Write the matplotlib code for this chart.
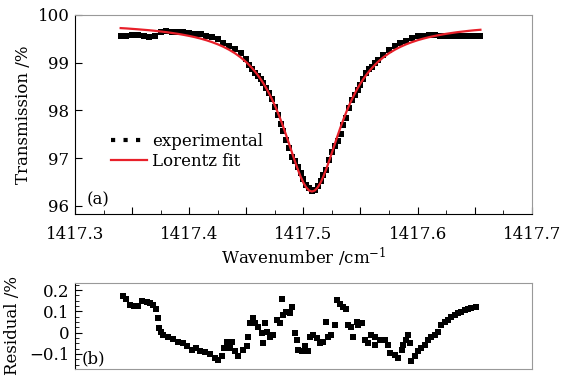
import numpy as np
import matplotlib
matplotlib.use("Agg")
import matplotlib.pyplot as plt
from matplotlib.ticker import MultipleLocator, FuncFormatter
from matplotlib.lines import Line2D

# wavenumber grid (cm^-1)
wavenumber = [
    1417.340, 1417.345, 1417.350, 1417.355, 1417.360, 1417.365, 1417.370, 1417.375,
    1417.380, 1417.385, 1417.390, 1417.395, 1417.400, 1417.405, 1417.410, 1417.415,
    1417.420, 1417.425, 1417.430, 1417.435, 1417.440, 1417.445, 1417.450,
    1417.4525, 1417.455, 1417.4575, 1417.460, 1417.4625, 1417.465, 1417.4675, 1417.470,
    1417.4725, 1417.475, 1417.4775, 1417.480, 1417.4825, 1417.485, 1417.4875, 1417.490,
    1417.4925, 1417.495, 1417.4975, 1417.500, 1417.5025, 1417.505, 1417.5075, 1417.510,
    1417.5125, 1417.515, 1417.5175, 1417.520, 1417.5225, 1417.525, 1417.5275, 1417.530,
    1417.5325, 1417.535, 1417.5375, 1417.540, 1417.5425, 1417.545, 1417.5475, 1417.550,
    1417.5525, 1417.555, 1417.5575, 1417.560, 1417.5625, 1417.565,
    1417.570, 1417.575, 1417.580, 1417.585, 1417.590, 1417.595, 1417.600, 1417.605,
    1417.610, 1417.615, 1417.620, 1417.625, 1417.630, 1417.635, 1417.640, 1417.645,
    1417.650, 1417.655,
]

# measured transmission (%)
experimental = [
    99.555, 99.558, 99.575, 99.575, 99.550, 99.545, 99.565, 99.640,
    99.655, 99.652, 99.646, 99.634, 99.628, 99.610, 99.593, 99.566,
    99.541, 99.500, 99.420, 99.340, 99.280, 99.200, 99.076,
    98.960, 98.860, 98.780, 98.712, 98.650, 98.580, 98.460, 98.369,
    98.244, 98.073, 97.906, 97.720, 97.564, 97.376, 97.207, 97.030,
    96.930, 96.810, 96.690, 96.555, 96.440, 96.370, 96.315, 96.342,
    96.420, 96.530, 96.650, 96.750, 96.955, 97.122, 97.261, 97.360,
    97.510, 97.688, 97.848, 98.060, 98.213, 98.314, 98.425, 98.540,
    98.658, 98.780, 98.858, 98.920, 98.992, 99.060,
    99.160, 99.260, 99.350, 99.410, 99.460, 99.520, 99.555, 99.565,
    99.572, 99.575, 99.565, 99.558, 99.552, 99.552, 99.554, 99.558,
    99.560, 99.565,
]

# Lorentz fit (%)
lorentz = [
    99.725, 99.718, 99.709, 99.700, 99.690, 99.680, 99.668, 99.654,
    99.640, 99.623, 99.605, 99.584, 99.561, 99.535, 99.505, 99.471,
    99.431, 99.386, 99.333, 99.271, 99.199, 99.113, 99.011,
    98.952, 98.888, 98.818, 98.742, 98.658, 98.566, 98.465, 98.354,
    98.233, 98.103, 97.961, 97.808, 97.646, 97.474, 97.297, 97.117,
    96.940, 96.770, 96.616, 96.485, 96.385, 96.322, 96.300, 96.322,
    96.385, 96.485, 96.616, 96.770, 96.940, 97.117, 97.297, 97.474,
    97.646, 97.808, 97.961, 98.103, 98.233, 98.354, 98.465, 98.566,
    98.658, 98.742, 98.818, 98.888, 98.952, 99.011,
    99.113, 99.199, 99.271, 99.333, 99.386, 99.431, 99.471, 99.505,
    99.535, 99.561, 99.584, 99.605, 99.623, 99.640, 99.654, 99.668,
    99.680, 99.690,
]

# residual panel
res_x = [
    1417.342, 1417.345, 1417.348, 1417.352, 1417.355, 1417.359, 1417.363, 1417.366,
    1417.3685, 1417.3706, 1417.3724, 1417.3738, 1417.375, 1417.3773, 1417.3816, 1417.386,
    1417.3904, 1417.3942, 1417.3977, 1417.4021, 1417.4059, 1417.4094, 1417.4138, 1417.4181,
    1417.4225, 1417.4254, 1417.4284, 1417.4304, 1417.4327, 1417.4356, 1417.4371, 1417.440,
    1417.4429, 1417.4473, 1417.4502, 1417.4516, 1417.4531, 1417.456, 1417.4575, 1417.4604,
    1417.4634, 1417.4648, 1417.4663, 1417.4677, 1417.4706, 1417.4735, 1417.4765, 1417.4794,
    1417.4809, 1417.4823, 1417.4852, 1417.4881, 1417.4896, 1417.4925, 1417.494, 1417.4954,
    1417.4984, 1417.5013, 1417.5041, 1417.5056, 1417.5085, 1417.5115, 1417.5144, 1417.5173,
    1417.5202, 1417.5216, 1417.5246, 1417.5275, 1417.5295, 1417.5319, 1417.5348, 1417.5377,
    1417.5391, 1417.5421, 1417.5435, 1417.5465, 1417.5479, 1417.5509, 1417.5538, 1417.5567,
    1417.5596, 1417.5625, 1417.5625, 1417.5669, 1417.5713, 1417.5741, 1417.5756, 1417.580,
    1417.5829, 1417.5859, 1417.5873, 1417.5902, 1417.5916, 1417.5931, 1417.5946, 1417.5975,
    1417.6004, 1417.6034, 1417.6063, 1417.6091, 1417.6121, 1417.615, 1417.6179, 1417.6209,
    1417.6238, 1417.6266, 1417.6296, 1417.6325, 1417.6354, 1417.6384, 1417.6413, 1417.6441,
    1417.6471, 1417.6509,
]
residual = [
    0.170, 0.160, 0.130, 0.125, 0.125, 0.147, 0.144, 0.141,
    0.130, 0.113, 0.067, 0.020, 0.005, -0.011, -0.023, -0.030,
    -0.042, -0.047, -0.065, -0.080, -0.073, -0.088, -0.093, -0.100,
    -0.120, -0.130, -0.110, -0.073, -0.042, -0.073, -0.042, -0.088,
    -0.110, -0.080, -0.065, -0.019, 0.043, 0.067, 0.043, 0.028,
    -0.003, -0.050, 0.043, 0.005, -0.019, -0.011, 0.059, 0.043,
    0.160, 0.082, 0.098, 0.090, 0.120, -0.003, -0.034, -0.080,
    -0.088, -0.065, -0.088, -0.019, -0.011, -0.026, -0.050, -0.042,
    0.051, -0.019, -0.011, 0.036, 0.152, 0.136, 0.120, 0.113,
    0.036, 0.028, -0.019, 0.051, 0.036, 0.043, -0.034, -0.050,
    -0.011, -0.019, -0.057, -0.034, -0.034, -0.057, -0.096, -0.104,
    -0.120, -0.080, -0.057, -0.034, -0.011, -0.050, -0.135, -0.110,
    -0.088, -0.073, -0.057, -0.034, -0.019, -0.011, 0.005, 0.036,
    0.051, 0.059, 0.074, 0.082, 0.090, 0.098, 0.105, 0.113,
    0.116, 0.120,
]

plt.rcParams['font.family'] = ['DejaVu Serif']
plt.rcParams['mathtext.fontset'] = 'dejavuserif'

fig = plt.figure(figsize=(5.79, 3.83), dpi=100)
ax1 = fig.add_axes([0.1295, 0.4413, 0.789, 0.5196])
ax2 = fig.add_axes([0.1295, 0.0366, 0.789, 0.2245])

grey = '#999999'

# (a) transmission
ax1.plot(wavenumber, experimental, ls='none', marker='s', ms=5, color='black', mew=0)
ax1.plot(wavenumber, lorentz, color='#e8202a', lw=1.6)
ax1.set_xlim(1417.3, 1417.7)
ax1.set_ylim(95.83, 100)
ax1.xaxis.set_major_locator(MultipleLocator(0.05))
ax1.xaxis.set_minor_locator(MultipleLocator(0.025))
ax1.xaxis.set_major_formatter(FuncFormatter(
    lambda v, p: f'{v:.1f}' if abs(round(v * 10) - v * 10) < 1e-6 else ''))
ax1.yaxis.set_major_locator(MultipleLocator(1))
ax1.tick_params(axis='both', which='both', direction='in', labelsize=12)
ax1.tick_params(axis='x', which='major', length=5, pad=9)
ax1.tick_params(axis='x', which='minor', length=3)
ax1.tick_params(axis='y', which='major', length=5, pad=4)
ax1.set_xlabel('Wavenumber /cm$^{-1}$', fontsize=12, labelpad=2)
ax1.set_ylabel('Transmission /%', fontsize=12, labelpad=4)
for s in ['top', 'right']:
    ax1.spines[s].set_color(grey)
ax1.text(0.025, 0.05, '(a)', transform=ax1.transAxes, fontsize=12)

handles = [Line2D([], [], color='black', ls=(0, (1, 2)), lw=3),
           Line2D([], [], color='#e8202a', lw=1.6)]
ax1.legend(handles, ['experimental', 'Lorentz fit'], loc='lower left',
           bbox_to_anchor=(0.06, 0.18), frameon=False, fontsize=12,
           handlelength=2.2, handletextpad=0.3, labelspacing=0.15, borderpad=0)

# (b) residual
ax2.plot(res_x, residual, ls='none', marker='s', ms=4.3, color='black', mew=0)
ax2.set_xlim(1417.3, 1417.7)
ax2.set_ylim(-0.171, 0.233)
ax2.set_xticks([])
ax2.yaxis.set_major_locator(MultipleLocator(0.1))
ax2.yaxis.set_minor_locator(MultipleLocator(0.025))
ax2.yaxis.set_major_formatter(FuncFormatter(
    lambda v, p: '0' if abs(v) < 1e-9 else f'{v:.1f}'.replace('-', '\u2212')))
ax2.tick_params(axis='y', which='both', direction='in', labelsize=12, pad=4)
ax2.tick_params(axis='y', which='major', length=5)
ax2.tick_params(axis='y', which='minor', length=3)
ax2.set_ylabel('Residual /%', fontsize=12, labelpad=6)
for s in ['top', 'right', 'bottom']:
    ax2.spines[s].set_color(grey)
ax2.text(0.015, 0.06, '(b)', transform=ax2.transAxes, fontsize=12)

fig.savefig('out.png', dpi=100)
